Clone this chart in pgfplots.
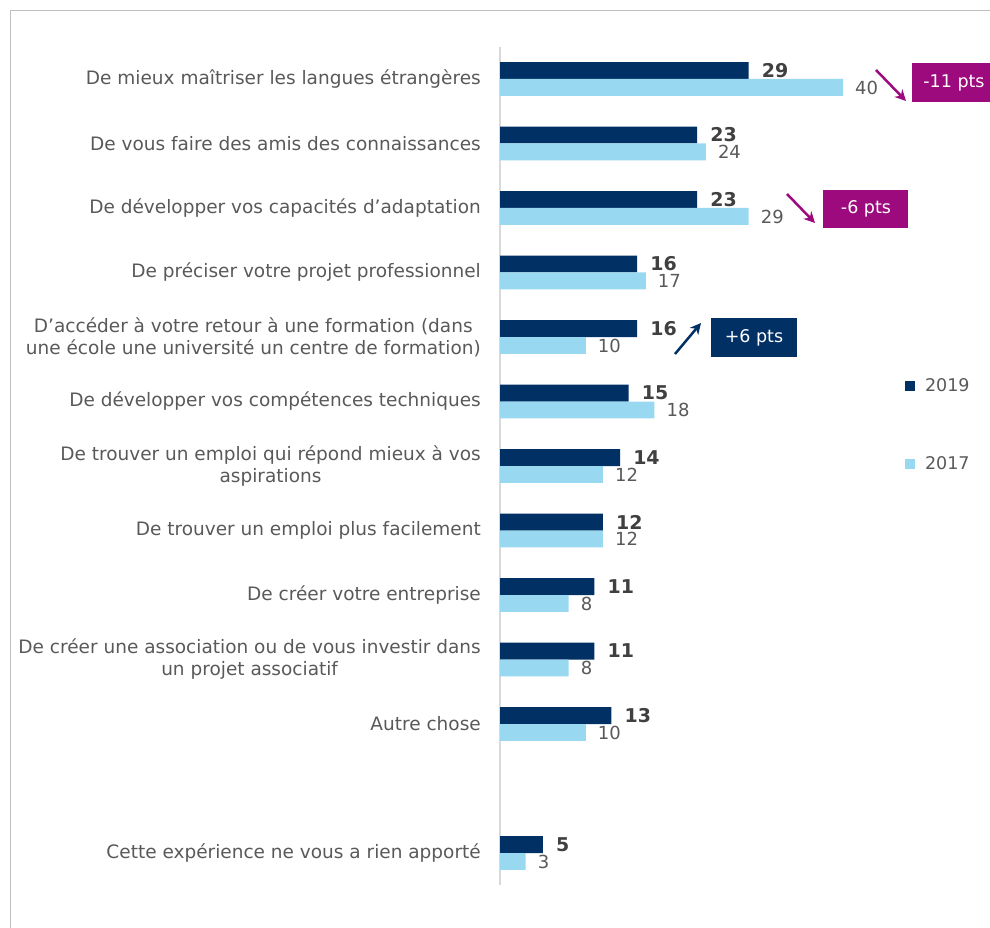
\documentclass[border=0pt]{standalone}
\usepackage{pgfplots}
\pgfplotsset{compat=1.18}
\usepackage{fontspec}
\setmainfont{DejaVu Sans}
\usetikzlibrary{arrows.meta}
\definecolor{navy}{HTML}{003064}
\definecolor{lblue}{HTML}{99D8F1}
\definecolor{purp}{HTML}{9C0A7D}
\definecolor{txt}{HTML}{595959}
\definecolor{val}{HTML}{404040}

\begin{document}
\begin{tikzpicture}
\useasboundingbox (0,0) rectangle (990pt,928pt);
\draw[black!25, line width=1.2pt] (10.5pt,0) -- (10.5pt,917.5pt) -- (990pt,917.5pt);
\begin{axis}[
  at={(500pt,42.75pt)}, anchor=south west,
  scale only axis, width=490pt, height=838.5pt,
  xmin=0, xmax=57.14, ymin=-0.5, ymax=12.5,
  y dir=reverse,
  xbar, bar width=0.263,
  hide x axis,
  axis y line*=left,
  y axis line style={draw=black!15, line width=1.2pt, -},
  major tick length=0pt,
  /pgf/number format/assume math mode=true,
  ytick={0,1,2,3,4,5,6,7,8,9,10,12},
  yticklabels={
    {De mieux maîtriser les langues étrangères},
    {De vous faire des amis des connaissances},
    {De développer vos capacités d’adaptation},
    {De préciser votre projet professionnel},
    {D’accéder à votre retour à une formation (dans\\une école une université un centre de formation)},
    {De développer vos compétences techniques},
    {De trouver un emploi qui répond mieux à vos\\aspirations},
    {De trouver un emploi plus facilement},
    {De créer votre entreprise},
    {De créer une association ou de vous investir dans\\un projet associatif},
    {Autre chose},
    {Cette expérience ne vous a rien apporté}},
  yticklabel style={font=\fontsize{18.5}{22}\selectfont, text=txt, align=center, inner sep=0pt, xshift=-19pt},
  clip=false,
  legend style={at={(0.82,0.609)}, anchor=north west, draw=none, fill=none,
    font=\fontsize{17.5}{20}\selectfont, text=txt, row sep=59pt, legend cell align=left,
    /tikz/every odd column/.append style={column sep=8pt}},
  legend image code/.code={\fill[#1] (0pt,-5pt) rectangle (10pt,5pt);},
]
\addplot[fill=navy, draw=none, bar shift=-0.1315, point meta=x,
  nodes near coords,
  nodes near coords style={font=\fontsize{19}{20}\selectfont\bfseries, text=val, inner sep=0pt, xshift=13pt, anchor=west}]
  coordinates {(29,0) (23,1) (23,2) (16,3) (16,4) (15,5) (14,6) (12,7) (11,8) (11,9) (13,10) (5,12)};
\addplot[fill=lblue, draw=none, bar shift=0.1315, point meta=x,
  nodes near coords,
  nodes near coords style={font=\fontsize{18}{20}\selectfont, text=txt, inner sep=0pt, xshift=12pt, anchor=west}]
  coordinates {(40,0) (24,1) (29,2) (17,3) (10,4) (18,5) (12,6) (12,7) (8,8) (8,9) (10,10) (3,12)};
\legend{2019, 2017}
\end{axis}
\begin{scope}[x=1pt, y=-1pt, shift={(0pt,928pt)}]
  \fill[purp] (912,63) rectangle (990,102);
  \node[text=white, font=\fontsize{17.5}{20}\selectfont] at (954,83) {-11 pts};
  \draw[purp, line width=2.5pt, -{Stealth[length=11pt,width=11pt]}] (876,70) -- (906,101);
  \fill[purp] (823,190) rectangle (908,228);
  \node[text=white, font=\fontsize{17.5}{20}\selectfont] at (866,209) {-6 pts};
  \draw[purp, line width=2.5pt, -{Stealth[length=11pt,width=11pt]}] (787,194) -- (815,223);
  \fill[navy] (711,318) rectangle (797,357);
  \node[text=white, font=\fontsize{17.5}{20}\selectfont] at (754,338) {+6 pts};
  \draw[navy, line width=2.5pt, -{Stealth[length=11pt,width=11pt]}] (675,354) -- (701,323);
\end{scope}
\end{tikzpicture}
\end{document}
